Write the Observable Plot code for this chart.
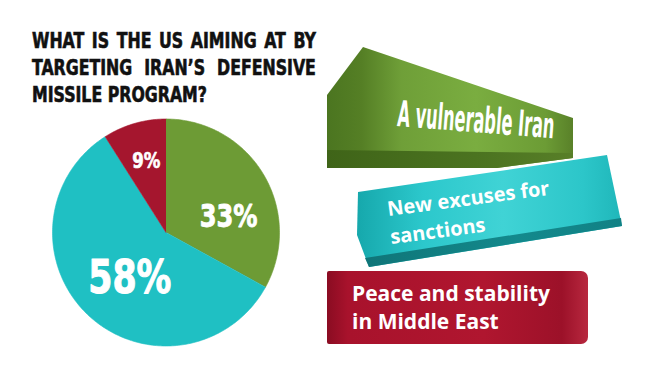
<!DOCTYPE html>
<html>
<head>
<meta charset="utf-8">
<script src="https://cdn.jsdelivr.net/npm/d3@7"></script>
<script src="https://cdn.jsdelivr.net/npm/@observablehq/plot@0.6"></script>
<style>
  html, body { margin: 0; padding: 0; background: #fff; }
  #wrap { position: relative; width: 650px; height: 366px; overflow: hidden; background: #fff; }
  #chart { position: absolute; left: 0; top: 0; }
  #title { position: absolute; left: 32px; top: 28px; width: 340px; transform: scaleX(0.835); transform-origin: 0 0;
    font-family: "DejaVu Sans Condensed", sans-serif; font-weight: bold; -webkit-text-stroke: 0.6px #111;
    font-size: 21px; line-height: 27px; color: #111; }
  #title div { text-align: justify; text-align-last: justify; white-space: nowrap; }
  #title div:last-child { text-align-last: left; }
  .rib { position: absolute; }
  .rtext { position: absolute; color: #fff; font-weight: bold; white-space: nowrap; transform-origin: 0 100%; }
</style>
</head>
<body>
<div id="wrap">
  <div id="chart"></div>
  <div id="title"></div>
  <div id="ribbons"></div>
</div>
<script>
const titleLines = ["WHAT IS THE US AIMING AT BY", "TARGETING IRAN\u2019S DEFENSIVE", "MISSILE PROGRAM?"];
const categories = ["A vulnerable Iran", "New excuses for sanctions", "Peace and stability in Middle East"];
const categoryLines = [["A vulnerable Iran"], ["New excuses for", "sanctions"], ["Peace and stability", "in Middle East"]];
const values = [33, 58, 9];
const valueLabels = ["33%", "58%", "9%"];
const colors = ["#6d9b35", "#1fc0c3", "#a5162e"];

// Title
const t = document.getElementById("title");
titleLines.forEach(l => { const d = document.createElement("div"); d.textContent = l; t.appendChild(d); });

// Pie geometry from data
const slices = d3.pie().sort(null).value(d => d.value)(categories.map((c, i) => ({key: c, value: values[i], label: valueLabels[i]})));
const pts = [];
slices.forEach(s => {
  pts.push({key: s.data.key, x: 0, y: 0});
  const n = Math.max(2, Math.ceil((s.endAngle - s.startAngle) / (Math.PI / 180)));
  for (let k = 0; k <= n; k++) {
    const a = s.startAngle + (s.endAngle - s.startAngle) * k / n;
    pts.push({key: s.data.key, x: Math.sin(a), y: Math.cos(a)});
  }
});
const lab = slices.map(s => {
  const m = (s.startAngle + s.endAngle) / 2;
  return {key: s.data.key, label: s.data.label, x: Math.sin(m) * 0.62, y: Math.cos(m) * 0.62};
});

const font = '"DejaVu Sans Condensed", sans-serif';
const plot = Plot.plot({
  width: 650, height: 366, margin: 0,
  x: {domain: [-1, 1], range: [52, 279], axis: null},
  y: {domain: [-1, 1], range: [345.5, 118.5], axis: null},
  color: {domain: categories, range: colors},
  style: {background: "transparent"},
  marks: [
    Plot.line(pts, {x: "x", y: "y", z: "key", fill: "key", stroke: "key", strokeWidth: 0.6}),
    Plot.text(lab.filter(d => d.key === categories[0]), {x: "x", y: "y", text: "label", fill: "white", stroke: "white", strokeWidth: 0.8, fontSize: 32, fontWeight: "bold", fontFamily: font, dx: 2, dy: 20}),
    Plot.text(lab.filter(d => d.key === categories[1]), {x: "x", y: "y", text: "label", fill: "white", stroke: "white", strokeWidth: 1, fontSize: 46, fontWeight: "bold", fontFamily: font, dx: 12, dy: -6}),
    Plot.text(lab.filter(d => d.key === categories[2]), {x: "x", y: "y", text: "label", fill: "white", stroke: "white", strokeWidth: 0.6, fontSize: 22, fontWeight: "bold", fontFamily: font, dx: 0, dy: -4})
  ]
});
// condense the value labels horizontally about their anchor
d3.select(plot).selectAll("text").each(function() {
  const el = this;
  const tr = el.getAttribute("transform");
  if (tr && tr.includes("translate")) {
    el.setAttribute("transform", tr + " scale(0.84,1)");
  } else {
    const x = +(el.getAttribute("x") || 0), y = +(el.getAttribute("y") || 0);
    el.removeAttribute("x"); el.removeAttribute("y");
    el.setAttribute("transform", `translate(${x},${y}) scale(0.84,1)`);
  }
});
document.getElementById("chart").appendChild(plot);

// Ribbons (legend)
const rib = document.getElementById("ribbons");
function ribbon(bg, clip, left, top, w, h, radius) {
  const d = document.createElement("div");
  d.className = "rib";
  Object.assign(d.style, {left: left + "px", top: top + "px", width: w + "px", height: h + "px", background: bg, clipPath: clip || "none", borderRadius: radius || "0"});
  rib.appendChild(d);
}
function rtext(lines, left, top, size, family, rot, lh, sx, indent) {
  lines.forEach((l, i) => {
    const d = document.createElement("div");
    d.className = "rtext";
    d.textContent = l;
    Object.assign(d.style, {left: (left + i * (indent || 0)) + "px", top: (top + i * lh) + "px", fontSize: size + "px", fontFamily: family, transform: `rotate(${rot}deg) scaleX(${sx || 1})`});
    rib.appendChild(d);
  });
}
// green
ribbon("linear-gradient(90deg, #4b7520 0%, #557f25 14%, #6f9f38 30%, #7aad40 60%, #6c9c35 88%, #587f28 100%)",
  "polygon(0px 48px, 36px 0px, 246px 71px, 246px 111px, 170px 121px, 0px 121px)", 327, 47, 248, 122);
ribbon("linear-gradient(90deg, #3f6418 0%, #4b7320 60%, #587f28 100%)",
  "polygon(0px 103px, 246px 106px, 246px 111px, 170px 121px, 0px 121px)", 327, 47, 248, 122);
// cyan
ribbon("linear-gradient(90deg, #16a8ac 0%, #2cc8cc 25%, #40d3d5 55%, #2cc6c9 85%, #1fb6b9 100%)",
  "polygon(1px 37px, 250px 0px, 265px 71px, 12px 112px, 0px 80px)", 357, 155, 266, 114);
ribbon("linear-gradient(90deg, #0f7477 0%, #13898c 60%, #118185 100%)",
  "polygon(8px 103px, 264px 63px, 265px 71px, 12px 112px)", 357, 155, 266, 114);
// red
ribbon("linear-gradient(90deg, #8a0c22 0%, #a8122c 8%, #b0162f 60%, #9c1129 90%, #b8283f 100%)", null, 327, 271, 261, 73, "2px 7px 7px 2px");

rtext(categoryLines[0], 396, 93, 36, font, 4.5, 0, 0.5, 0);
rtext(categoryLines[1], 389, 195, 20, '"Open Sans", sans-serif', -7.5, 28, 1, 3);
rtext(categoryLines[2], 352, 279, 21, '"Open Sans", sans-serif', 0, 28, 1, 0);
</script>
</body>
</html>
